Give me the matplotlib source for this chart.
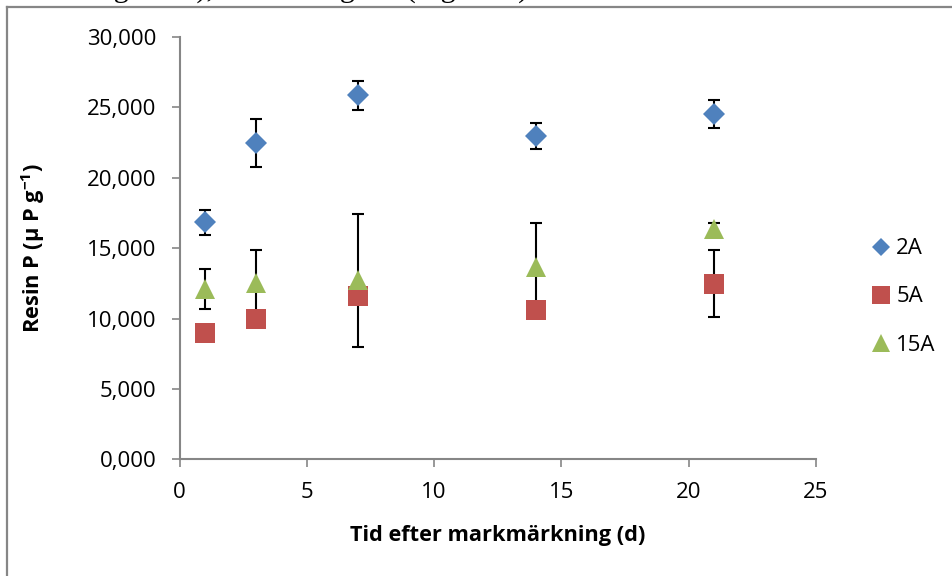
import matplotlib
matplotlib.use("Agg")
import matplotlib.pyplot as plt
from matplotlib.lines import Line2D
from matplotlib.ticker import FuncFormatter, MultipleLocator

# ---- data (Resin P, thousands shown with Swedish decimal comma) ----
days = [1, 3, 7, 14, 21]
a2 = [16.82, 22.47, 25.87, 22.97, 24.51]
a2_err = [0.90, 1.68, 1.03, 0.93, 1.00]
a5 = [8.98, 10.00, 11.58, 10.60, 12.47]
a5_err = [0.40, 0.40, 0.40, 0.40, 2.39]
a15 = [12.12, 12.50, 12.70, 13.64, 16.38]
a15_err = [1.42, 2.37, 4.74, 3.17, 0.38]
series_names = ["2A", "5A", "15A"]

plt.rcParams['font.family'] = ['Open Sans', 'DejaVu Sans']
plt.rcParams['mathtext.fontset'] = 'custom'
plt.rcParams['mathtext.rm'] = 'Open Sans'
plt.rcParams['mathtext.bf'] = 'Open Sans:bold'

W, H = 952, 576
fig = plt.figure(figsize=(W / 100, H / 100), dpi=100)
ax = fig.add_axes([179.5 / W, 1 - 459.3 / H, (815.8 - 179.5) / W, (459.3 - 36.9) / H])

ecol = 'black'
ekw = dict(fmt='none', ecolor=ecol, elinewidth=1.5, capsize=4.3, capthick=1.5, zorder=2)
ax.errorbar(days, a2, yerr=a2_err, **ekw)
ax.errorbar(days, a5, yerr=a5_err, **ekw)
ax.errorbar(days, a15, yerr=a15_err, **ekw)

ax.plot(days, a2, linestyle='none', marker='D', ms=10.7, mew=0, color='#4F81BD', zorder=3, label=series_names[0])
ax.plot(days, a5, linestyle='none', marker='s', ms=15.1, mew=0, color='#C0504D', zorder=4, label=series_names[1])
ax.plot(days, a15, linestyle='none', marker='^', ms=15.1, mew=0, color='#9BBB59', zorder=5, label=series_names[2])

ax.set_xlim(0, 25)
ax.set_ylim(0, 30)
ax.xaxis.set_major_locator(MultipleLocator(5))
ax.yaxis.set_major_locator(MultipleLocator(5))
ax.yaxis.set_major_formatter(FuncFormatter(lambda v, p: f"{v:,.3f}".replace('.', ',')))

gray = '#868686'
for s in ['top', 'right']:
    ax.spines[s].set_visible(False)
for s in ['left', 'bottom']:
    ax.spines[s].set_color(gray)
    ax.spines[s].set_linewidth(1.5)
ax.tick_params(axis='both', direction='out', length=5.5, width=1.2, color=gray,
               labelsize=16, labelcolor='black', pad=11)

fig.text(498 / W, 1 - 536 / H, "Tid efter markmärkning (d)", ha='center', va='center',
         fontsize=15.7, fontweight='bold')
fig.text(33 / W, 1 - 248 / H, r"Resin P (µ P g$^{\mathbf{-1}}$)", ha='center', va='center',
         rotation=90, fontsize=15.7, fontweight='bold')

leg = ax.legend(loc='center left', bbox_to_anchor=(869.5 / W, 1 - 297 / H),
                bbox_transform=fig.transFigure, frameon=False, fontsize=16,
                handlelength=1.0, handletextpad=0.2, labelspacing=1.22,
                borderpad=0, borderaxespad=0, markerscale=0.9, numpoints=1)

# outer chart frame (left and top edges visible)
fig.add_artist(Line2D([6.5 / W, 6.5 / W], [1 - 7 / H, 0], transform=fig.transFigure,
                      color=gray, lw=1.6))
fig.add_artist(Line2D([6.5 / W, 1.0], [1 - 7 / H, 1 - 7 / H], transform=fig.transFigure,
                      color=gray, lw=1.6))

# cut-off line of document text above the chart (only its lowest part is visible)
fig.text(-17 / W, 1 + 3.5 / H, "ökade mängden P), och i mängden (Figur 10)", ha='left', va='baseline',
         fontsize=21.6, family='Liberation Serif')

fig.savefig("out.png", dpi=100)
